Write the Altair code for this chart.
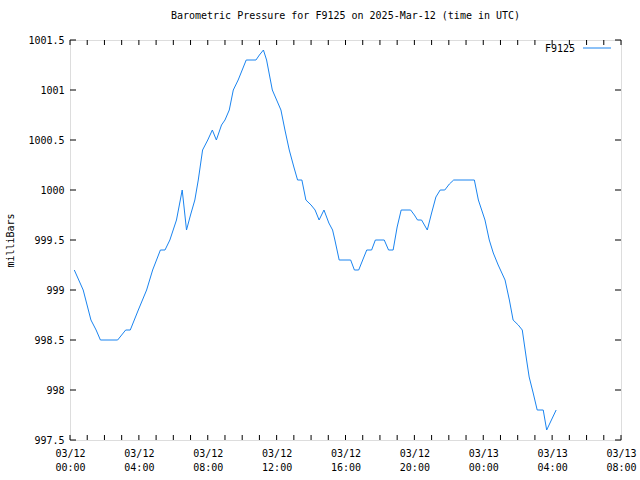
import altair as alt
import pandas as pd

# ---- data ----
times = [
    "2025-03-12T00:15:00Z", "2025-03-12T00:46:00Z", "2025-03-12T01:13:00Z", "2025-03-12T01:31:00Z",
    "2025-03-12T01:46:00Z", "2025-03-12T02:46:00Z", "2025-03-12T03:14:00Z", "2025-03-12T03:30:00Z",
    "2025-03-12T03:58:00Z", "2025-03-12T04:27:00Z", "2025-03-12T04:48:00Z", "2025-03-12T05:15:00Z",
    "2025-03-12T05:31:00Z", "2025-03-12T05:48:00Z", "2025-03-12T06:11:00Z", "2025-03-12T06:31:00Z",
    "2025-03-12T06:46:00Z", "2025-03-12T07:00:00Z", "2025-03-12T07:15:00Z", "2025-03-12T07:27:00Z",
    "2025-03-12T07:42:00Z", "2025-03-12T08:00:00Z", "2025-03-12T08:16:00Z", "2025-03-12T08:30:00Z",
    "2025-03-12T08:48:00Z", "2025-03-12T09:00:00Z", "2025-03-12T09:15:00Z", "2025-03-12T09:29:00Z",
    "2025-03-12T09:46:00Z", "2025-03-12T10:00:00Z", "2025-03-12T10:14:00Z", "2025-03-12T10:48:00Z",
    "2025-03-12T11:00:00Z", "2025-03-12T11:14:00Z", "2025-03-12T11:25:00Z", "2025-03-12T11:35:00Z",
    "2025-03-12T11:45:00Z", "2025-03-12T12:00:00Z", "2025-03-12T12:15:00Z", "2025-03-12T12:29:00Z",
    "2025-03-12T12:44:00Z", "2025-03-12T13:00:00Z", "2025-03-12T13:13:00Z", "2025-03-12T13:28:00Z",
    "2025-03-12T13:42:00Z", "2025-03-12T14:00:00Z", "2025-03-12T14:14:00Z", "2025-03-12T14:28:00Z",
    "2025-03-12T14:45:00Z", "2025-03-12T15:02:00Z", "2025-03-12T15:15:00Z", "2025-03-12T15:23:00Z",
    "2025-03-12T15:38:00Z", "2025-03-12T16:18:00Z", "2025-03-12T16:31:00Z", "2025-03-12T16:46:00Z",
    "2025-03-12T17:14:00Z", "2025-03-12T17:31:00Z", "2025-03-12T17:44:00Z", "2025-03-12T18:15:00Z",
    "2025-03-12T18:30:00Z", "2025-03-12T18:46:00Z", "2025-03-12T19:00:00Z", "2025-03-12T19:14:00Z",
    "2025-03-12T19:47:00Z", "2025-03-12T20:00:00Z", "2025-03-12T20:11:00Z", "2025-03-12T20:25:00Z",
    "2025-03-12T20:45:00Z", "2025-03-12T21:00:00Z", "2025-03-12T21:15:00Z", "2025-03-12T21:30:00Z",
    "2025-03-12T21:46:00Z", "2025-03-12T22:02:00Z", "2025-03-12T22:17:00Z", "2025-03-12T23:29:00Z",
    "2025-03-12T23:43:00Z", "2025-03-13T00:06:00Z", "2025-03-13T00:21:00Z", "2025-03-13T00:35:00Z",
    "2025-03-13T00:52:00Z", "2025-03-13T01:16:00Z", "2025-03-13T01:31:00Z", "2025-03-13T01:44:00Z",
    "2025-03-13T02:02:00Z", "2025-03-13T02:16:00Z", "2025-03-13T02:31:00Z", "2025-03-13T02:40:00Z",
    "2025-03-13T02:54:00Z", "2025-03-13T03:08:00Z", "2025-03-13T03:29:00Z", "2025-03-13T03:41:00Z",
    "2025-03-13T04:14:00Z",
]
pressure = [
    999.2, 999.0, 998.7, 998.6,
    998.5, 998.5, 998.6, 998.6,
    998.8, 999.0, 999.2, 999.4,
    999.4, 999.5, 999.7, 1000.0,
    999.6, 999.75, 999.9, 1000.1,
    1000.4, 1000.5, 1000.6, 1000.5,
    1000.65, 1000.7, 1000.8, 1001.0,
    1001.1, 1001.2, 1001.3, 1001.3,
    1001.35, 1001.4, 1001.3, 1001.15,
    1001.0, 1000.9, 1000.8, 1000.6,
    1000.4, 1000.23, 1000.1, 1000.1,
    999.9, 999.85, 999.8, 999.7,
    999.8, 999.67, 999.6, 999.5,
    999.3, 999.3, 999.2, 999.2,
    999.4, 999.4, 999.5, 999.5,
    999.4, 999.4, 999.63, 999.8,
    999.8, 999.75, 999.7, 999.7,
    999.6, 999.77, 999.93, 1000.0,
    1000.0, 1000.06, 1000.1, 1000.1,
    999.9, 999.7, 999.5, 999.37,
    999.25, 999.1, 998.9, 998.7,
    998.65, 998.6, 998.3, 998.13,
    997.97, 997.8, 997.8, 997.6,
    997.8,
]
series_name = "F9125"
y_ticks = [997.5, 998.0, 998.5, 999.0, 999.5, 1000.0, 1000.5, 1001.0, 1001.5]
x_start = "2025-03-12T00:00:00Z"
x_end = "2025-03-13T08:00:00Z"

FONT = "DejaVu Sans Mono"
COLOR = "#1a84f0"
W, H = 551, 400

df = pd.DataFrame({"time": times, "pressure": pressure})

hour_ticks = pd.date_range(x_start, x_end, freq="1h")
tick_df = pd.DataFrame({"time": [t.strftime("%Y-%m-%dT%H:%M:%SZ") for t in hour_ticks]})
label_vals = [alt.DateTime(year=t.year, month=t.month, date=t.day, hours=t.hour, utc=True)
              for t in hour_ticks if t.hour % 4 == 0]
ytick_df = pd.DataFrame({"pressure": y_ticks})

x_scale = alt.Scale(
    type="utc",
    domain=[alt.DateTime(year=2025, month=3, date=12, hours=0, utc=True),
            alt.DateTime(year=2025, month=3, date=13, hours=8, utc=True)],
)
y_scale = alt.Scale(domain=[997.5, 1001.5], nice=False, zero=False)

x_axis = alt.Axis(
    values=label_vals,
    labelExpr="[utcFormat(datum.value, '%m/%d'), utcFormat(datum.value, '%H:%M')]",
    ticks=False, domain=False, grid=False, title=None,
    labelFont=FONT, labelFontSize=10, labelColor="black",
    labelPadding=8, labelLineHeight=14, labelAngle=0, labelFlush=False,
    labelOverlap=False,
)
y_axis = alt.Axis(
    values=y_ticks, format=".1~f",
    ticks=False, domain=False, grid=False,
    title="milliBars", titleFont=FONT, titleFontSize=10, titleFontWeight="normal",
    titleColor="black", titleX=-60, titleY=H / 2, titleAngle=270,
    titleAlign="center", titleBaseline="middle",
    labelFont=FONT, labelFontSize=10, labelColor="black", labelPadding=6,
)

line = alt.Chart(df).mark_line(color=COLOR, strokeWidth=1, interpolate="linear").encode(
    x=alt.X("time:T", scale=x_scale, axis=x_axis),
    y=alt.Y("pressure:Q", scale=y_scale, axis=y_axis),
)

xt_bottom = alt.Chart(tick_df).mark_rule(color="black", strokeWidth=1).encode(
    x=alt.X("time:T", scale=x_scale), y=alt.value(H), y2=alt.value(H - 5))
xt_top = alt.Chart(tick_df).mark_rule(color="black", strokeWidth=1).encode(
    x=alt.X("time:T", scale=x_scale), y=alt.value(0), y2=alt.value(5))
yt_left = alt.Chart(ytick_df).mark_rule(color="black", strokeWidth=1).encode(
    y=alt.Y("pressure:Q", scale=y_scale), x=alt.value(0), x2=alt.value(6))
yt_right = alt.Chart(ytick_df).mark_rule(color="black", strokeWidth=1).encode(
    y=alt.Y("pressure:Q", scale=y_scale), x=alt.value(W), x2=alt.value(W - 6))

legend_df = pd.DataFrame({"name": [series_name]})
leg_text = alt.Chart(legend_df).mark_text(
    font=FONT, fontSize=10, align="right", baseline="middle", color="black"
).encode(text="name:N", x=alt.value(505), y=alt.value(9))
leg_line = alt.Chart(legend_df).mark_rule(color=COLOR, strokeWidth=1).encode(
    x=alt.value(513), x2=alt.value(541), y=alt.value(8))

chart = alt.layer(line, xt_bottom, xt_top, yt_left, yt_right, leg_text, leg_line).properties(
    width=W, height=H,
    title=alt.TitleParams(
        "Barometric Pressure for F9125 on 2025-Mar-12 (time in UTC)",
        font=FONT, fontSize=10, fontWeight="normal", color="black",
        anchor="middle", offset=14,
    ),
    autosize=alt.AutoSizeParams(type="none"),
    padding={"left": 70, "top": 40, "right": 19, "bottom": 40},
).configure_view(stroke="black", strokeWidth=1).configure(background="white")

chart.save("out.html", embed_options={"renderer": "svg", "actions": False})
